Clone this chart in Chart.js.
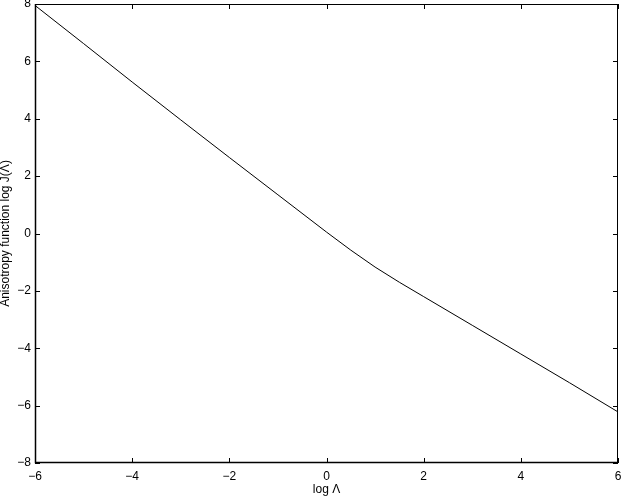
<!DOCTYPE html>
<html>
<head>
<meta charset="utf-8">
<script src="https://cdn.jsdelivr.net/npm/chart.js@4.4.1/dist/chart.umd.min.js"></script>
<style>
  html, body { margin: 0; padding: 0; background: #fff; }
  #wrap { width: 622px; height: 498px; }
</style>
</head>
<body>
<div id="wrap"><canvas id="myChart1" width="622" height="498"></canvas></div>
<script>
// log Lambda and log J(Lambda)
var logLambda = [-6, -5, -4, -3, -2, -1, 0, 0.5, 1, 1.5, 2, 3, 4, 5, 6];
var logJ = [7.95, 6.62, 5.28, 3.96, 2.65, 1.35, 0.05, -0.58, -1.17, -1.7, -2.2, -3.2, -4.2, -5.2, -6.22];
var xTicks = [-6, -4, -2, 0, 2, 4, 6];
var yTicks = [-8, -6, -4, -2, 0, 2, 4, 6, 8];

var pts = [];
for (var i = 0; i < logLambda.length; i++) {
	pts.push({x: logLambda[i], y: logJ[i]});
}

function minus(v) {
	return String(v).replace('-', '\u2212');
}

// matlab style box with inward ticks on all four sides
var boxPlugin = {
	id: 'box',
	afterDraw: function(chart) {
		var c = chart.ctx, a = chart.chartArea;
		var sx = chart.scales.x, sy = chart.scales.y;
		var len = 5;
		c.save();
		c.strokeStyle = '#000';
		c.lineWidth = 1;
		xTicks.forEach(function(t) {
			var px = Math.round(sx.getPixelForValue(t)) + 0.5;
			c.beginPath();
			c.moveTo(px, a.bottom); c.lineTo(px, a.bottom - len);
			c.moveTo(px, a.top); c.lineTo(px, a.top + len);
			c.stroke();
		});
		yTicks.forEach(function(t) {
			var py = Math.round(sy.getPixelForValue(t)) + 0.5;
			c.beginPath();
			c.moveTo(a.left, py); c.lineTo(a.left + len, py);
			c.moveTo(a.right, py); c.lineTo(a.right - len, py);
			c.stroke();
		});
		c.strokeRect(a.left + 0.5, a.top + 0.5, a.right - a.left - 1, a.bottom - a.top - 1);
		c.lineWidth = 1.5;
		c.beginPath();
		c.moveTo(a.left + 0.5, a.top);
		c.lineTo(a.left + 0.5, a.bottom - 0.5);
		c.lineTo(a.right, a.bottom - 0.5);
		c.stroke();
		c.restore();
	}
};

Chart.defaults.font.family = '"Liberation Sans", Arial, Helvetica, sans-serif';
Chart.defaults.font.size = 12;
Chart.defaults.color = '#000';

var ctx = document.getElementById("myChart1").getContext("2d");
window.myLine = new Chart(ctx, {
	type: 'scatter',
	data: {
		datasets: [{
			data: pts,
			showLine: true,
			borderColor: '#000',
			borderWidth: 1,
			pointRadius: 0,
			fill: false,
			tension: 0
		}]
	},
	options: {
		responsive: false,
		animation: false,
		layout: { padding: { top: 4, right: 4, left: 0, bottom: 0 } },
		plugins: {
			legend: { display: false },
			tooltip: { enabled: false }
		},
		scales: {
			x: {
				type: 'linear',
				min: -6, max: 6,
				afterFit: function(s) { s.height = 35; s.paddingLeft = 0; s.paddingRight = 0; },
				afterBuildTicks: function(s) { s.ticks = xTicks.map(function(v) { return {value: v}; }); },
				grid: { display: false, drawTicks: false },
				border: { display: false },
				ticks: { padding: 6, maxRotation: 0, callback: function(v) { return minus(v); } },
				title: { display: true, text: 'log \u039b', padding: { top: 0, bottom: 1 } }
			},
			y: {
				type: 'linear',
				min: -8, max: 8,
				afterFit: function(s) { s.width = 35; s.paddingTop = 0; s.paddingBottom = 0; },
				afterBuildTicks: function(s) { s.ticks = yTicks.map(function(v) { return {value: v}; }); },
				grid: { display: false, drawTicks: false },
				border: { display: false },
				ticks: { padding: 4, callback: function(v) { return minus(v); } },
				title: { display: true, text: 'Anisotropy function log J(\u039b)', font: { lineHeight: 1 }, padding: { top: 0, bottom: 0 } }
			}
		}
	},
	plugins: [boxPlugin]
});
</script>
</body>
</html>
